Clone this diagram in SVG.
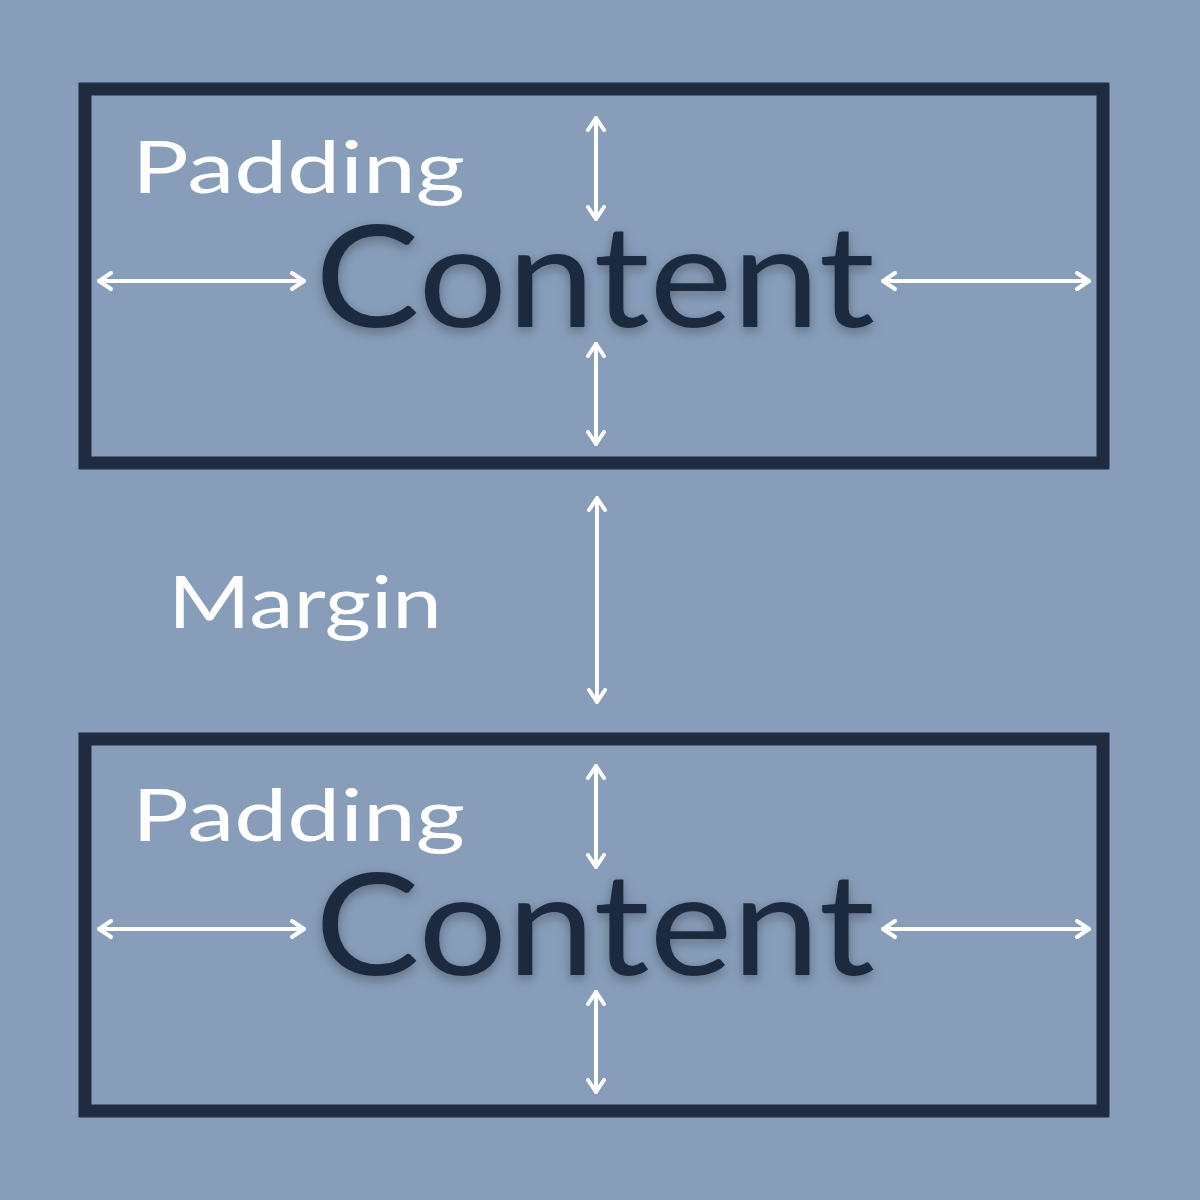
<svg xmlns="http://www.w3.org/2000/svg" width="1200" height="1200" viewBox="0 0 1200 1200">
<defs>
<style>
.box{fill:none;stroke:#1e2b40;stroke-width:13}
.arr{stroke:#fff;stroke-width:4;fill:none;stroke-linecap:round;marker-start:url(#h);marker-end:url(#h)}
.content{font-family:Lato,"Noto Sans",sans-serif;font-size:142px;fill:#1e2b40;filter:url(#sh)}
.lbl{font-family:Lato,"Noto Sans",sans-serif;font-size:72px;fill:#fff}
</style>
<marker id="h" viewBox="0 0 20 20" refX="17" refY="10" markerWidth="20" markerHeight="20" markerUnits="userSpaceOnUse" orient="auto-start-reverse">
<path d="M5,2 L17,10 L5,18" fill="none" stroke="#fff" stroke-width="4" stroke-linecap="round" stroke-linejoin="round"/>
</marker>
<filter id="sh" x="-10%" y="-20%" width="120%" height="140%"><feDropShadow dx="0" dy="4" stdDeviation="6" flood-color="#000" flood-opacity="0.3"/></filter>
</defs>
<rect width="1200" height="1200" fill="#879db9"/>
<g id="box1">
<rect class="box" x="85" y="89" width="1018" height="374"/>
<text class="lbl" x="132" y="193" textLength="333" lengthAdjust="spacingAndGlyphs">Padding</text>
<text class="content" x="315" y="327" textLength="560" lengthAdjust="spacingAndGlyphs">Content</text>
</g>
<g id="margin"><text class="lbl" x="168" y="628" textLength="274" lengthAdjust="spacingAndGlyphs">Margin</text></g>
<g id="box2">
<rect class="box" x="85" y="739" width="1018" height="372"/>
<text class="lbl" x="132" y="841" textLength="333" lengthAdjust="spacingAndGlyphs">Padding</text>
<text class="content" x="315" y="975" textLength="560" lengthAdjust="spacingAndGlyphs">Content</text>
</g>
<g id="connectors">
<line class="arr" x1="99" y1="281" x2="304" y2="281"/>
<line class="arr" x1="883" y1="281" x2="1089" y2="281"/>
<line class="arr" x1="596" y1="118" x2="596" y2="219"/>
<line class="arr" x1="596" y1="344" x2="596" y2="444"/>
<line class="arr" x1="597" y1="498" x2="597" y2="702"/>
<line class="arr" x1="99" y1="929" x2="304" y2="929"/>
<line class="arr" x1="883" y1="929" x2="1089" y2="929"/>
<line class="arr" x1="596" y1="766" x2="596" y2="867"/>
<line class="arr" x1="596" y1="992" x2="596" y2="1092"/>
</g>
</svg>
